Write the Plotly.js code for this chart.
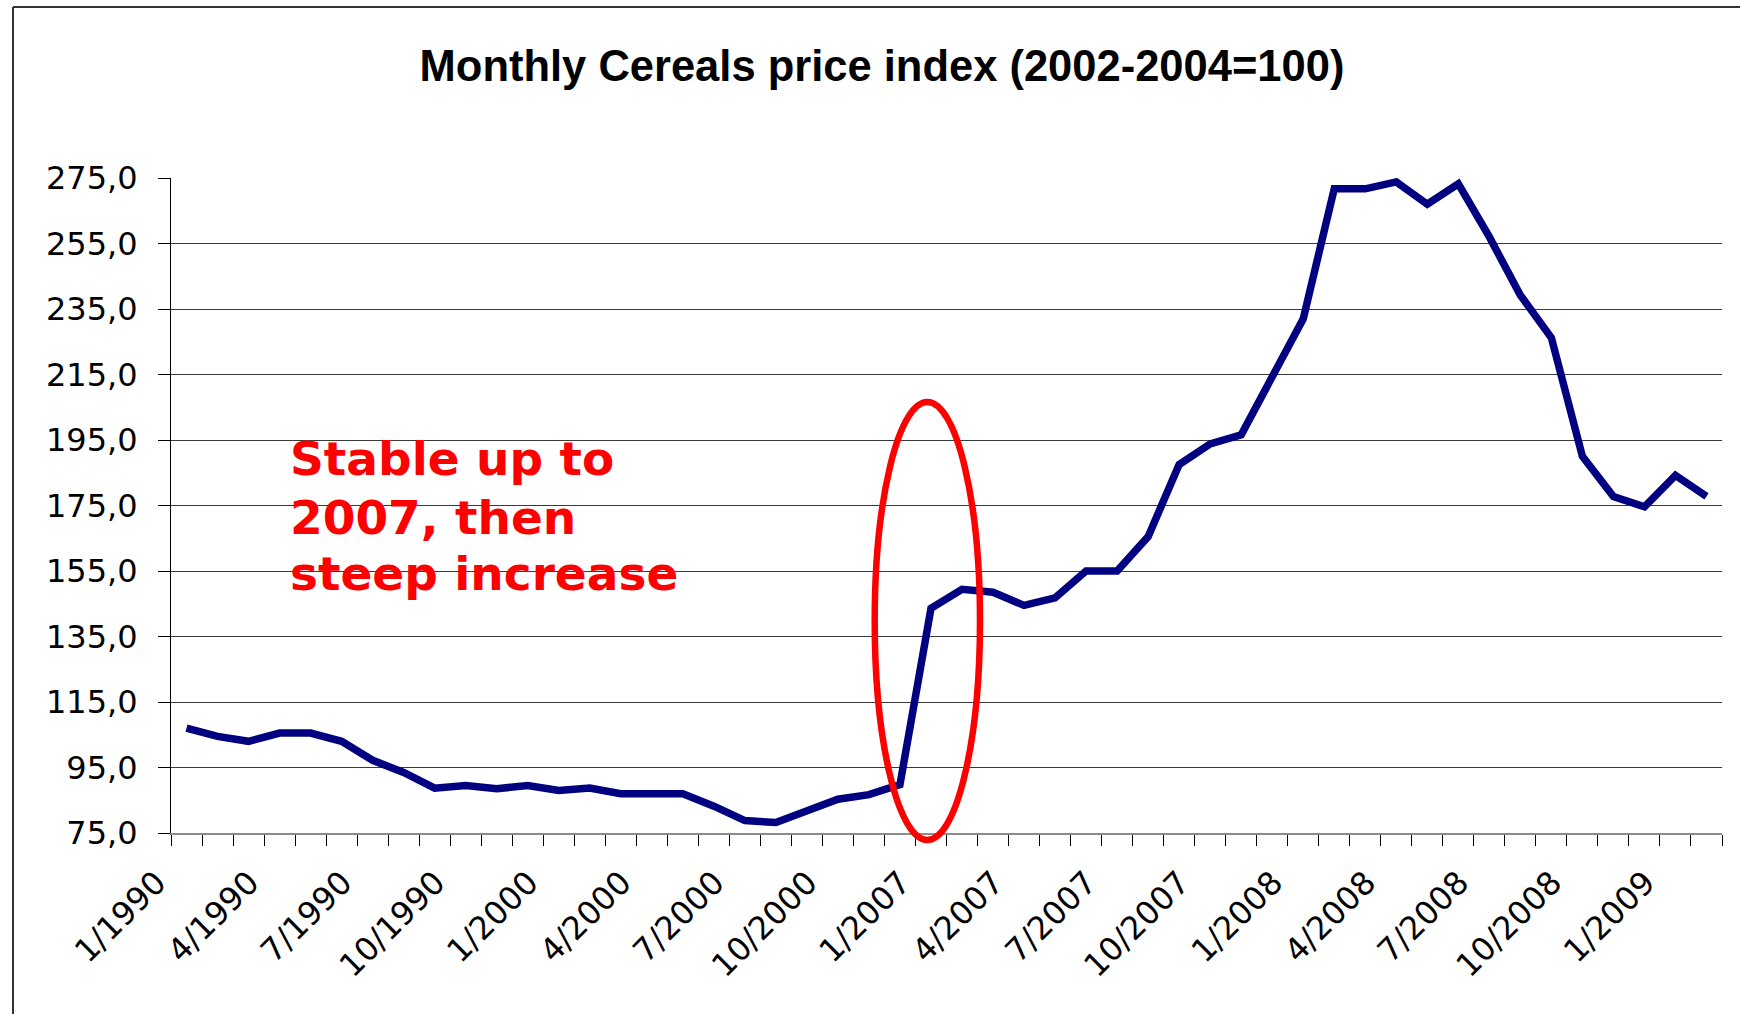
<!DOCTYPE html>
<html>
<head>
<meta charset="utf-8">
<script src="https://cdn.plot.ly/plotly-3.0.1.min.js"></script>
<style>
  html, body { margin: 0; padding: 0; background: #ffffff; }
  #chart { width: 1740px; height: 1014px; }
</style>
</head>
<body>
<div id="chart"></div>
<script>
// ---- Data ----
const categories = [
  "1/1990","2/1990","3/1990","4/1990","5/1990","6/1990","7/1990","8/1990","9/1990","10/1990","11/1990","12/1990",
  "1/2000","2/2000","3/2000","4/2000","5/2000","6/2000","7/2000","8/2000","9/2000","10/2000","11/2000","12/2000",
  "1/2007","2/2007","3/2007","4/2007","5/2007","6/2007","7/2007","8/2007","9/2007","10/2007","11/2007","12/2007",
  "1/2008","2/2008","3/2008","4/2008","5/2008","6/2008","7/2008","8/2008","9/2008","10/2008","11/2008","12/2008",
  "1/2009","2/2009"
];
const cerealIndex = [
  107.0, 104.5, 103.0, 105.5, 105.5, 103.0, 97.2, 93.5, 88.7, 89.5, 88.5, 89.5,
  88.0, 88.7, 87.0, 87.0, 87.0, 83.2, 78.8, 78.2, 81.7, 85.3, 86.7, 89.8,
  143.6, 149.4, 148.5, 144.5, 146.8, 155.0, 155.0, 165.5, 187.5, 193.8, 196.6, 214.8,
  232.0, 271.7, 271.7, 273.8, 267.0, 273.2, 257.0, 239.2, 226.2, 190.0, 177.7, 174.6,
  184.2, 177.8
];
const yTickValues = [75, 95, 115, 135, 155, 175, 195, 215, 235, 255, 275];
const yGridValues = [95, 115, 135, 155, 175, 195, 215, 235, 255];
const xLabelStep = 3;
const chartTitle = "Monthly Cereals price index (2002-2004=100)";
const noteLines = ["Stable up to", "2007, then", "steep increase"];

// ---- Chart ----
const tickText = categories.map((c, i) => (i % xLabelStep === 0 ? c : ""));

const W = 1740, H = 1014;
const L = 171, R = 18, T = 178, B = 181;
const pw = W - L - R, ph = H - T - B;
const px = v => (v - L) / pw;           // pixel -> paper x
const py = v => (H - B - v) / ph;       // pixel -> paper y

const trace = {
  type: "scatter",
  mode: "lines",
  x: categories,
  y: cerealIndex,
  line: { color: "#000080", width: 7.5 },
  hoverinfo: "skip",
  showlegend: false
};

const tickFont = { family: "DejaVu Sans, Arial, sans-serif", size: 32, color: "#000000" };
const noteFont = { family: "DejaVu Sans, Verdana, sans-serif", size: 47, color: "#FF0000", weight: "bold" };
const noteCenters = [458.7, 517.0, 573.7];

const layout = {
  width: W, height: H,
  margin: { l: L, r: R, t: T, b: B, pad: 0 },
  paper_bgcolor: "#ffffff",
  plot_bgcolor: "#ffffff",
  separators: ",.",
  showlegend: false,
  title: {
    text: chartTitle,
    font: { family: "Liberation Sans, Arial, sans-serif", size: 43.5, color: "#000000", weight: "bold" },
    xref: "container", x: 882 / W, xanchor: "center",
    yref: "container", y: 1 - 66 / H, yanchor: "middle"
  },
  xaxis: {
    type: "category",
    range: [-0.5, categories.length - 0.5],
    tickmode: "array",
    tickvals: categories,
    ticktext: tickText,
    tickson: "boundaries",
    ticks: "outside",
    ticklen: 11,
    tickwidth: 1,
    tickcolor: "#000000",
    tickangle: -45,
    tickfont: tickFont,
    ticklabelshift: -30,
    ticklabelstandoff: 16,
    showline: true,
    linecolor: "#8c8c8c",
    linewidth: 2,
    showgrid: false,
    zeroline: false,
    fixedrange: true
  },
  yaxis: {
    range: [75, 275],
    tickmode: "array",
    tickvals: yTickValues,
    tickformat: ".1f",
    ticks: "outside",
    ticklen: 12,
    tickwidth: 1,
    tickcolor: "#000000",
    tickfont: tickFont,
    ticklabelstandoff: 14,
    showline: true,
    linecolor: "#000000",
    linewidth: 1,
    showgrid: false,
    zeroline: false,
    fixedrange: true
  },
  yaxis2: {
    overlaying: "y",
    range: [75, 275],
    tickmode: "array",
    tickvals: yGridValues,
    showticklabels: false,
    ticks: "",
    showgrid: true,
    gridcolor: "#3a3a3a",
    gridwidth: 1,
    showline: false,
    zeroline: false,
    fixedrange: true
  },
  shapes: [
    { type: "circle", xref: "paper", yref: "paper",
      x0: px(874.7), x1: px(980), y0: py(840), y1: py(402),
      line: { color: "#FF0000", width: 6.5 }, layer: "above" },
    { type: "line", xref: "paper", yref: "paper",
      x0: px(13), x1: px(1800), y0: py(7), y1: py(7),
      line: { color: "#333333", width: 2 } },
    { type: "line", xref: "paper", yref: "paper",
      x0: px(13), x1: px(13), y0: py(7), y1: py(1100),
      line: { color: "#333333", width: 2 } }
  ],
  annotations: noteLines.map((t, i) => ({
    text: t,
    xref: "paper", yref: "paper",
    x: px(289), xanchor: "left",
    y: py(noteCenters[i]), yanchor: "middle",
    showarrow: false,
    align: "left",
    font: noteFont,
    borderpad: 0
  }))
};

// an empty trace on y2 so the grid axis is drawn
const gridTrace = {
  type: "scatter", mode: "lines", x: [categories[0]], y: [null],
  yaxis: "y2", hoverinfo: "skip", showlegend: false
};

Plotly.newPlot("chart", [gridTrace, trace], layout, { displayModeBar: false, staticPlot: true });
</script>
</body>
</html>
